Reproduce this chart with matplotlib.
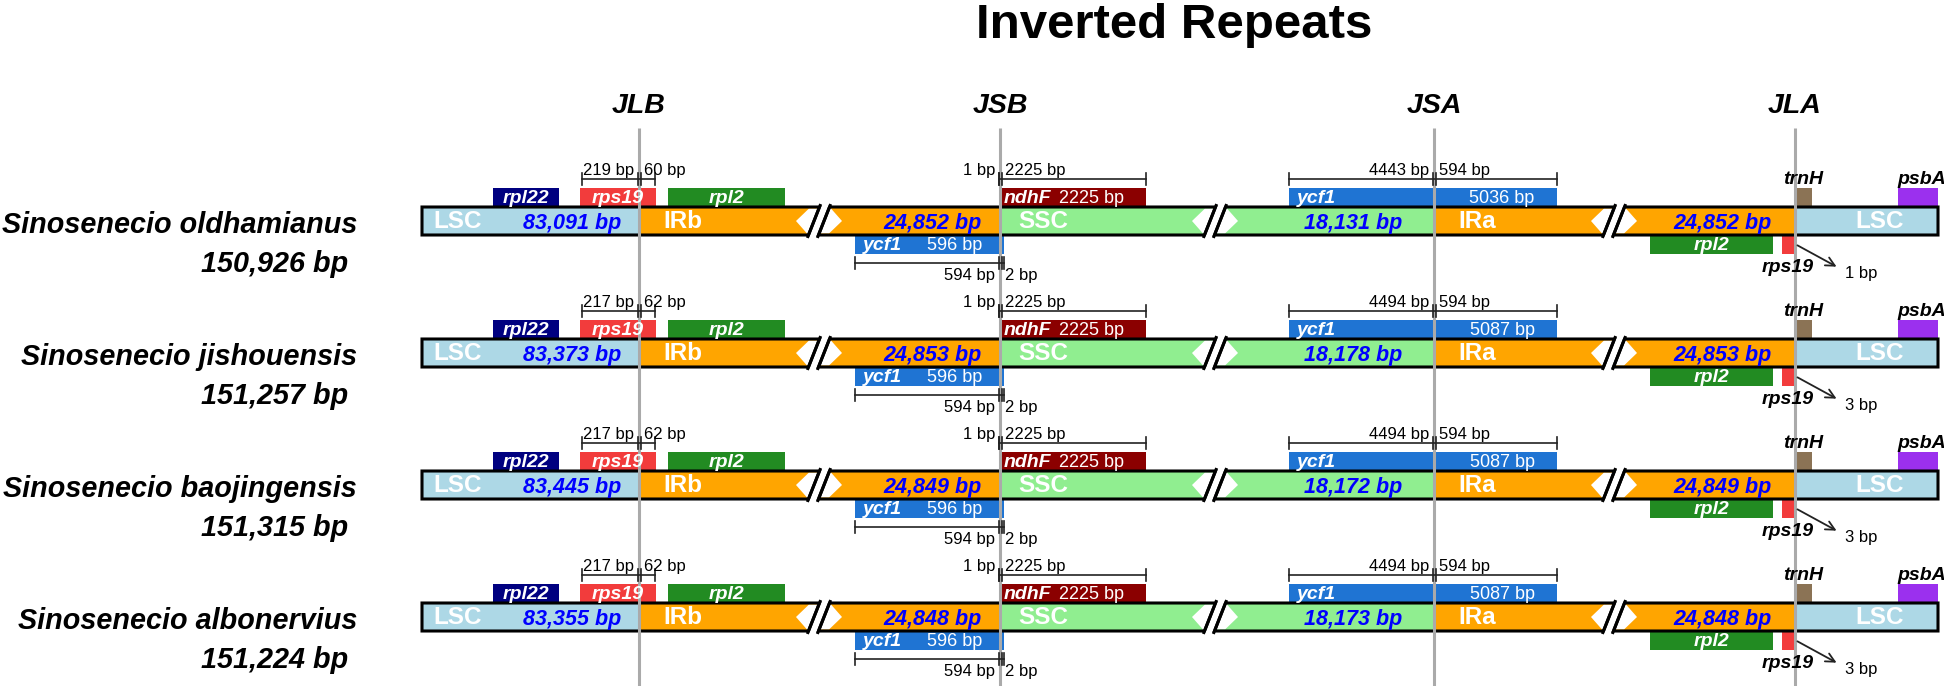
import matplotlib
matplotlib.use("Agg")
import matplotlib.pyplot as plt
from matplotlib.patches import Polygon, Rectangle

plt.rcParams['font.family'] = ['Liberation Sans', 'DejaVu Sans']

# ---- data ----
species = ["Sinosenecio oldhamianus", "Sinosenecio jishouensis",
           "Sinosenecio baojingensis", "Sinosenecio albonervius"]
genome_bp = ["150,926 bp", "151,257 bp", "151,315 bp", "151,224 bp"]
lsc_bp = ["83,091 bp", "83,373 bp", "83,445 bp", "83,355 bp"]
ir_bp = ["24,852 bp", "24,853 bp", "24,849 bp", "24,848 bp"]
ssc_bp = ["18,131 bp", "18,178 bp", "18,172 bp", "18,173 bp"]
rps19_jlb = [(219, 60), (217, 62), (217, 62), (217, 62)]
ndhf_jsb = [(1, 2225), (1, 2225), (1, 2225), (1, 2225)]
ndhf_len = [2225, 2225, 2225, 2225]
ycf1_jsb = [(594, 2), (594, 2), (594, 2), (594, 2)]
ycf1_short = [596, 596, 596, 596]
ycf1_jsa = [(4443, 594), (4494, 594), (4494, 594), (4494, 594)]
ycf1_len = [5036, 5087, 5087, 5087]
rps19_jla = [1, 3, 3, 3]
junctions = ["JLB", "JSB", "JSA", "JLA"]

# ---- layout (pixels of the schematic) ----
JX = [639, 1000, 1434, 1795]       # junction lines
BAR_X0, BAR_X1 = 422, 1938
BREAKS = [819, 1215, 1614]
ROW_Y0, ROW_DY = 221, 132
BAR_H, GENE_H = 28, 18
S = 5.5        # half slant of the break slashes
GAP = 5        # half distance between the two slashes

C_LSC, C_IR, C_SSC = '#add8e6', '#ffa500', '#90ee90'
C_RPL22, C_RPS19, C_RPL2 = '#000080', '#f23c3c', '#228b22'
C_NDHF, C_YCF1, C_TRNH, C_PSBA = '#8b0000', '#1f74d3', '#8b7355', '#9b30ee'

fig = plt.figure(figsize=(19.44, 6.86), dpi=100)
ax = fig.add_axes([0, 0, 1, 1])
ax.set_xlim(0, 1944)
ax.set_ylim(686, 0)
ax.axis('off')

BI = dict(fontweight='bold', fontstyle='italic')


def quad(x0, x1, yt, yb, sl, sr):
    return [(x0 - S * sl, yb), (x0 + S * sl, yt), (x1 + S * sr, yt), (x1 - S * sr, yb)]


def piece(x0, x1, yt, yb, sl, sr, color):
    ax.add_patch(Polygon(quad(x0, x1, yt, yb, sl, sr), closed=True,
                         facecolor=color, edgecolor='none', zorder=1))


def gene(x0, x1, yt, color):
    ax.add_patch(Rectangle((x0, yt), x1 - x0, GENE_H, facecolor=color, edgecolor='none', zorder=2))


def bracket(x0, xj, x1, y):
    kw = dict(color='#222222', lw=1.2, zorder=4)
    ax.plot([x0, x1], [y, y], **kw)
    for x in (x0, x1, xj - 1.5, xj + 1.5):
        ax.plot([x, x], [y - 6, y + 6], **kw)


ax.text(1174, 38, "Inverted Repeats", fontsize=35.5, fontweight='bold', ha='center', va='baseline')
for name, x in zip(junctions, JX):
    ax.text(x, 113, name, fontsize=20.5, ha='center', va='baseline', **BI)
    ax.plot([x, x], [128, 686], color='#aaaaaa', lw=2.2, zorder=4, solid_capstyle='butt')

for i in range(len(species)):
    yc = ROW_Y0 + i * ROW_DY
    yt, yb = yc - BAR_H / 2, yc + BAR_H / 2
    gt, gb = yt - GENE_H - 1, yb + 1

    ax.text(357, yc + 12, species[i], fontsize=20.7, ha='right', va='baseline', **BI)
    ax.text(348, yc + 51, genome_bp[i], fontsize=20.7, ha='right', va='baseline', **BI)

    # bar fills
    b1, b2, b3 = BREAKS
    piece(BAR_X0, JX[0], yt, yb, 0, 0, C_LSC)
    piece(JX[0], b1 - GAP, yt, yb, 0, 1, C_IR)
    piece(b1 + GAP, JX[1], yt, yb, 1, 0, C_IR)
    piece(JX[1], b2 - GAP, yt, yb, 0, 1, C_SSC)
    piece(b2 + GAP, JX[2], yt, yb, 1, 0, C_SSC)
    piece(JX[2], b3 - GAP, yt, yb, 0, 1, C_IR)
    piece(b3 + GAP, JX[3], yt, yb, 1, 0, C_IR)
    piece(JX[3], BAR_X1, yt, yb, 0, 0, C_LSC)
    # white diamond at each break
    for b in BREAKS:
        ax.add_patch(Polygon([(b - 23, yc), (b - 10, yt + 1.5), (b + 12, yt + 1.5), (b + 23, yc),
                              (b + 10, yb - 1.5), (b - 12, yb - 1.5)],
                             facecolor='white', edgecolor='none', zorder=2))
    # outlines of the continuous pieces
    edges = [BAR_X0, b1 - GAP, b1 + GAP, b2 - GAP, b2 + GAP, b3 - GAP, b3 + GAP, BAR_X1]
    for k in range(4):
        sl = 0 if k == 0 else 1
        sr = 0 if k == 3 else 1
        ax.add_patch(Polygon(quad(edges[2 * k], edges[2 * k + 1], yt, yb, sl, sr), closed=True,
                             fill=False, edgecolor='black', lw=2.2, joinstyle='miter', zorder=3))
    for b in BREAKS:
        for x in (b - GAP, b + GAP):
            ax.plot([x - S - 0.6, x + S + 0.6], [yb + 1.5, yt - 1.5], color='black', lw=2.2, zorder=3)

    # region labels inside the bar
    for x, t in [(BAR_X0 + 36, "LSC"), (JX[0] + 44, "IRb"), (JX[1] + 43, "SSC"),
                 (JX[2] + 43, "IRa"), (JX[3] + 85, "LSC")]:
        ax.text(x, yc + 7.5, t, fontsize=17.5, fontweight='bold', color='white',
                ha='center', va='baseline', zorder=5)
    for x, t in [(JX[0] - 67, lsc_bp[i]), (JX[1] - 68, ir_bp[i]),
                 (JX[2] - 81, ssc_bp[i]), (JX[3] - 73, ir_bp[i])]:
        ax.text(x, yc + 7.5, t, fontsize=15.5, color='blue', ha='center', va='baseline',
                zorder=5, **BI)

    # genes above the bar
    for x0, x1, col, t in [(JX[0] - 146, JX[0] - 80, C_RPL22, "rpl22"),
                           (JX[0] - 59, JX[0] + 17, C_RPS19, "rps19"),
                           (JX[0] + 29, JX[0] + 146, C_RPL2, "rpl2")]:
        gene(x0, x1, gt, col)
        ax.text((x0 + x1) / 2, gt + 15, t, fontsize=14, color='white',
                ha='center', va='baseline', zorder=5, **BI)
    gene(JX[1], JX[1] + 146, gt, C_NDHF)
    ax.text(JX[1] + 4, gt + 15, "ndhF", fontsize=14, color='white', va='baseline', zorder=5, **BI)
    ax.text(JX[1] + 59, gt + 15, f"{ndhf_len[i]} bp", fontsize=13, color='white',
            va='baseline', zorder=5)
    gene(JX[2] - 145, JX[2] + 123, gt, C_YCF1)
    ax.text(JX[2] - 137, gt + 15, "ycf1", fontsize=14, color='white', va='baseline', zorder=5, **BI)
    ax.text(JX[2] + 68, gt + 15, f"{ycf1_len[i]} bp", fontsize=13, color='white',
            ha='center', va='baseline', zorder=5)
    gene(JX[3], JX[3] + 17, gt, C_TRNH)
    gene(JX[3] + 103, JX[3] + 143, gt, C_PSBA)
    ax.text(JX[3] + 8, gt - 4, "trnH", fontsize=14, ha='center', va='baseline', zorder=5, **BI)
    ax.text(JX[3] + 127, gt - 4, "psbA", fontsize=14, ha='center', va='baseline', zorder=5, **BI)

    # genes below the bar
    gene(JX[1] - 145, JX[1] + 4, gb, C_YCF1)
    ax.text(JX[1] - 137, gb + 14, "ycf1", fontsize=14, color='white', va='baseline', zorder=5, **BI)
    ax.text(JX[1] - 45, gb + 14, f"{ycf1_short[i]} bp", fontsize=13, color='white',
            ha='center', va='baseline', zorder=5)
    gene(JX[3] - 145, JX[3] - 22, gb, C_RPL2)
    ax.text(JX[3] - 83, gb + 14, "rpl2", fontsize=14, color='white',
            ha='center', va='baseline', zorder=5, **BI)
    gene(JX[3] - 13, JX[3], gb, C_RPS19)
    ax.text(JX[3] - 7, yc + 51, "rps19", fontsize=14, ha='center', va='baseline', zorder=5, **BI)
    ax.annotate("", xy=(JX[3] + 44, yc + 47), xytext=(JX[3], yc + 23),
                arrowprops=dict(arrowstyle='->', lw=1.3, color='#222222', mutation_scale=16), zorder=5)
    ax.text(JX[3] + 50, yc + 57, f"{rps19_jla[i]} bp", fontsize=12, va='baseline', zorder=5)

    # brackets above
    yba = yc - 42
    l, r = rps19_jlb[i]
    bracket(JX[0] - 57, JX[0], JX[0] + 16, yba)
    ax.text(JX[0] - 5, yba - 4, f"{l} bp", fontsize=12, ha='right', va='baseline', zorder=5)
    ax.text(JX[0] + 5, yba - 4, f"{r} bp", fontsize=12, ha='left', va='baseline', zorder=5)
    l, r = ndhf_jsb[i]
    bracket(JX[1] - 1, JX[1], JX[1] + 146, yba)
    ax.text(JX[1] - 5, yba - 4, f"{l} bp", fontsize=12, ha='right', va='baseline', zorder=5)
    ax.text(JX[1] + 5, yba - 4, f"{r} bp", fontsize=12, ha='left', va='baseline', zorder=5)
    l, r = ycf1_jsa[i]
    bracket(JX[2] - 145, JX[2], JX[2] + 123, yba)
    ax.text(JX[2] - 5, yba - 4, f"{l} bp", fontsize=12, ha='right', va='baseline', zorder=5)
    ax.text(JX[2] + 5, yba - 4, f"{r} bp", fontsize=12, ha='left', va='baseline', zorder=5)

    # bracket below
    ybb = yc + 42
    l, r = ycf1_jsb[i]
    bracket(JX[1] - 145, JX[1], JX[1] + 4, ybb)
    ax.text(JX[1] - 5, ybb + 17, f"{l} bp", fontsize=12, ha='right', va='baseline', zorder=5)
    ax.text(JX[1] + 5, ybb + 17, f"{r} bp", fontsize=12, ha='left', va='baseline', zorder=5)

fig.savefig("out.png", dpi=100)
